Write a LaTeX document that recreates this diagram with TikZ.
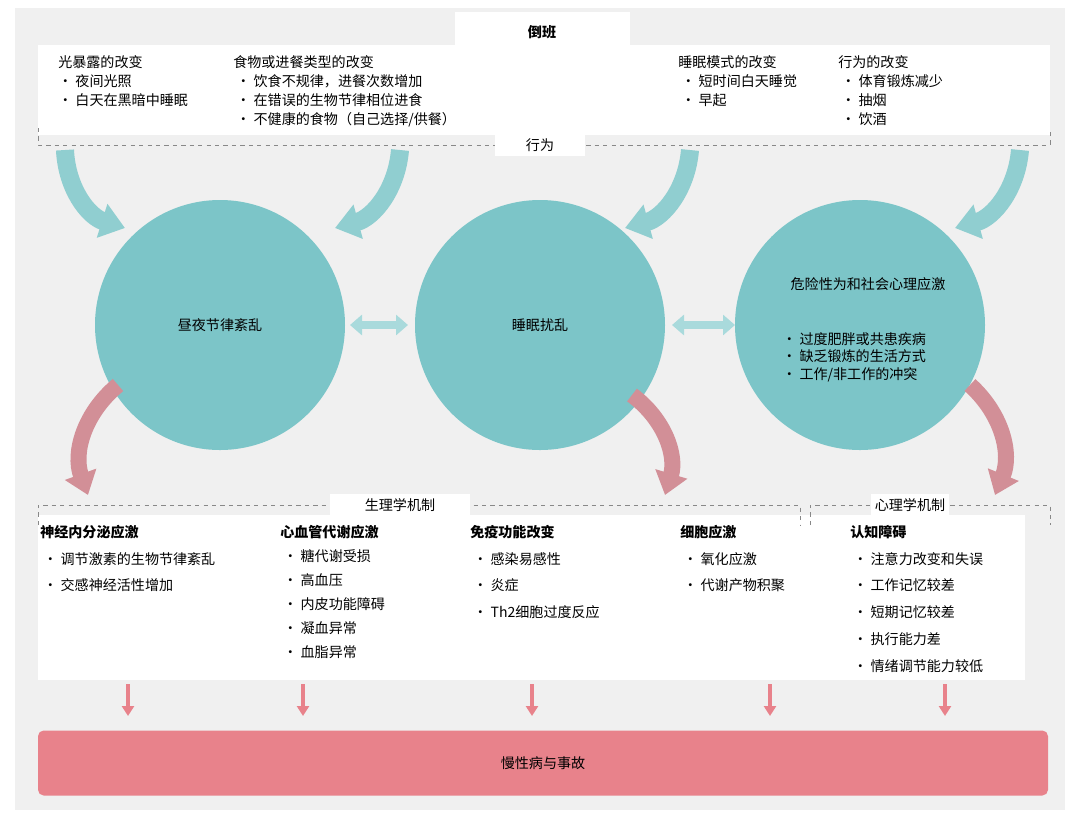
\documentclass[tikz,border=0pt]{standalone}
\usepackage{fontspec}
\setmainfont{Noto Sans CJK SC}
\usetikzlibrary{arrows.meta,positioning}
\definecolor{bgray}{HTML}{F0F0F0}
\definecolor{teal1}{HTML}{7CC5C8}
\definecolor{teal2}{HTML}{A9DADC}
\definecolor{pink1}{HTML}{E8828B}
\definecolor{dgray}{HTML}{888888}
\tikzset{
  panel/.style={fill=white, draw=none},
  tab/.style={fill=white, inner sep=3pt, font=\fontsize{10}{12}\selectfont},
  toptext/.style={anchor=north west, align=left, inner sep=0pt, font=\fontsize{10}{13.6}\selectfont},
  lowtext/.style={anchor=north west, align=left, inner sep=0pt, font=\fontsize{10}{24}\selectfont},
  circ/.style={circle, fill=teal1, minimum size=250*0.025cm, inner sep=0pt},
  inarrow/.style={teal1!85, line width=0.45cm, -{Triangle[width=0.85cm,length=0.6cm]}},
  outarrow/.style={pink1!80!teal1, line width=0.4cm, -{Triangle[width=0.8cm,length=0.55cm]}},
  dbl/.style={teal2, line width=0.2cm, {Triangle[width=0.5cm,length=0.3cm]}-{Triangle[width=0.5cm,length=0.3cm]}},
  downarrow/.style={pink1, line width=0.1cm, -{Triangle[width=0.3cm,length=0.25cm]}},
  dashline/.style={dgray, dashed, thin}
}
\begin{document}
\begin{tikzpicture}[x=0.025cm, y=-0.025cm]
  \useasboundingbox (0,0) rectangle (1080,818);
  \fill[bgray] (15,8) rectangle (1065,810);
  % top panel
  \fill[panel] (38,45) rectangle (1050,135);
  \fill[panel] (455,12) rectangle (630,45);
  \node[font=\fontsize{10}{12}\selectfont\bfseries] (shift) at (542,32) {倒班};
  \draw[dashline] (38,128) -- (38,145) -- (1050,145) -- (1050,128);
  \node[tab, minimum width=90*0.025cm] (behav) at (540,145) {行为};
  \node[toptext] (light) at (58,55) {光暴露的改变\\ • 夜间光照\\ • 白天在黑暗中睡眠};
  \node[toptext] (food) at (233,55) {食物或进餐类型的改变\\ \ • 饮食不规律，进餐次数增加\\ \ • 在错误的生物节律相位进食\\ \ • 不健康的食物（自己选择/供餐）};
  \node[toptext] (sleepmode) at (678,55) {睡眠模式的改变\\ \ • 短时间白天睡觉\\ \ • 早起};
  \node[toptext] (behavmode) at (838,55) {行为的改变\\ \ • 体育锻炼减少\\ \ • 抽烟\\ \ • 饮酒};
  % circles
  \node[circ] (circ1) at (220,325) {};
  \node[circ] (circ2) at (540,325) {};
  \node[circ] (circ3) at (860,325) {};
  \node[font=\fontsize{10}{12}\selectfont] (t1) at (220,325) {昼夜节律紊乱};
  \node[font=\fontsize{10}{12}\selectfont] (t2) at (540,325) {睡眠扰乱};
  \node[font=\fontsize{10}{12}\selectfont] (t3) at (868,284) {危险性为和社会心理应激};
  \node[toptext, font=\fontsize{10}{12.5}\selectfont] (t3b) at (782,332) {• 过度肥胖或共患疾病\\ • 缺乏锻炼的生活方式\\ • 工作/非工作的冲突};
  % top arrows
  \coordinate (a1s) at (65,150);  \coordinate (a1e) at (125,228);
  \coordinate (a2s) at (400,150); \coordinate (a2e) at (335,228);
  \coordinate (a3s) at (690,150); \coordinate (a3e) at (625,228);
  \coordinate (a4s) at (1020,150);\coordinate (a4e) at (955,228);
  \draw[inarrow] (a1s) to[bend right=35] (a1e);
  \draw[inarrow] (a2s) to[bend left=35] (a2e);
  \draw[inarrow] (a3s) to[bend left=35] (a3e);
  \draw[inarrow] (a4s) to[bend left=35] (a4e);
  % double arrows
  \draw[dbl] (350,325) -- (408,325);
  \draw[dbl] (672,325) -- (735,325);
  % lower arrows
  \coordinate (b1s) at (118,385); \coordinate (b1e) at (88,495);
  \coordinate (b2s) at (632,395); \coordinate (b2e) at (665,495);
  \coordinate (b3s) at (970,385); \coordinate (b3e) at (995,495);
  \draw[outarrow] (b1s) to[bend right=35] (b1e);
  \draw[outarrow] (b2s) to[bend left=35] (b2e);
  \draw[outarrow] (b3s) to[bend left=35] (b3e);
  % lower panel
  \fill[panel] (38,515) rectangle (1025,680);
  \draw[dashline] (38,525) -- (38,505) -- (800,505) -- (800,525);
  \draw[dashline] (810,525) -- (810,505) -- (1050,505) -- (1050,525);
  \node[tab, minimum width=140*0.025cm] (physio) at (400,505) {生理学机制};
  \node[tab, minimum width=75*0.025cm] (psych) at (910,505) {心理学机制};
  \node[lowtext] (neuro) at (40,525) {\textbf{神经内分泌应激}\\[-5pt] \ • 调节激素的生物节律紊乱\\[-5pt] \ • 交感神经活性增加};
  \node[lowtext] (cardio) at (280,525) {\textbf{心血管代谢应激}\\[-7pt] \ • 糖代谢受损\\[-7pt] \ • 高血压\\[-7pt] \ • 内皮功能障碍\\[-7pt] \ • 凝血异常\\[-7pt] \ • 血脂异常};
  \node[lowtext] (immune) at (470,525) {\textbf{免疫功能改变}\\[-5pt] \ • 感染易感性\\[-5pt] \ • 炎症\\[-5pt] \ • Th2细胞过度反应};
  \node[lowtext] (cell) at (680,525) {\textbf{细胞应激}\\[-5pt] \ • 氧化应激\\[-5pt] \ • 代谢产物积聚};
  \node[lowtext] (cogn) at (850,525) {\textbf{认知障碍}\\[-5pt] \ • 注意力改变和失误\\[-5pt] \ • 工作记忆较差\\[-5pt] \ • 短期记忆较差\\[-5pt] \ • 执行能力差\\[-5pt] \ • 情绪调节能力较低};
  % bottom box
  \node[fill=pink1, rounded corners=4pt, minimum width=1010*0.025cm, minimum height=65*0.025cm, font=\fontsize{10}{12}\selectfont] (chronic) at (543,763) {慢性病与事故};
  \foreach \x in {128,303,532,770,945}
    \draw[downarrow] (\x,684) -- (\x,716);
\end{tikzpicture}
\end{document}
